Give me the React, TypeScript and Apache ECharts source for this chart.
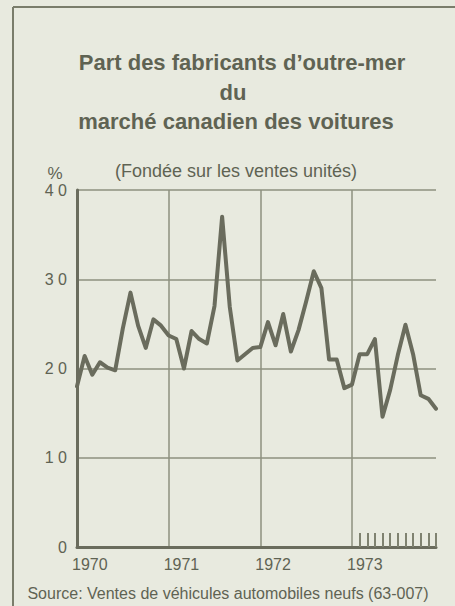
import React, { useEffect, useRef } from "react";
import * as echarts from "echarts";

// Data (monthly share, %, Jan 1970 – Dec 1973)
const years = ["1970", "1971", "1972", "1973"];
const monthNames = ["01", "02", "03", "04", "05", "06", "07", "08", "09", "10", "11", "12"];
const shareValues = [
  18.0, 21.4, 19.3, 20.7, 20.1, 19.8, 24.5, 28.5, 24.8, 22.3, 25.5, 24.8,
  23.7, 23.3, 20.0, 24.2, 23.3, 22.8, 27.0, 37.0, 26.9, 20.9, 21.6, 22.3,
  22.4, 25.2, 22.6, 26.1, 21.9, 24.3, 27.5, 30.9, 29.0, 21.0, 21.0, 17.8,
  18.2, 21.6, 21.6, 23.3, 14.6, 17.6, 21.5, 24.9, 21.6, 17.0, 16.6, 15.5,
];
const yTicks = { min: 0, max: 40, interval: 10 };

const titleLines = ["Part des fabricants d\u2019outre-mer", "du", "marché canadien des voitures"];
const subtitle = "(Fondée sur les ventes unités)";
const unitLabel = "%";
const sourceText = "Source: Ventes de véhicules automobiles neufs (63-007)";

const categories: string[] = [];
years.forEach((y) => monthNames.forEach((m) => categories.push(`${y}-${m}`)));

const BG = "#e8eadf";
const INK = "#5f6353";
const LINE = "#6a6c5d";
const GRID = "#8e917f";

export default function App() {
  const ref = useRef<HTMLDivElement>(null);
  useEffect(() => {
    if (!ref.current) return;
    const chart = echarts.init(ref.current, null, { renderer: "svg" });
    chart.setOption({
      animation: false,
      backgroundColor: BG,
      grid: { left: 77, right: 19, top: 190, bottom: 59, containLabel: false },
      xAxis: {
        type: "category",
        data: categories,
        boundaryGap: false,
        axisLine: { show: true, lineStyle: { color: LINE, width: 3 } },
        axisTick: {
          show: true,
          inside: true,
          length: 14,
          interval: (i: number) => i >= 37,
          lineStyle: { color: "#7f8270", width: 2 },
        },
        axisLabel: {
          show: true,
          interval: (i: number) => i % 12 === 0,
          formatter: (v: string) => v.slice(0, 4),
          align: "left",
          padding: [0, 0, 0, -5],
          margin: 9,
          color: INK,
          fontSize: 16,
          fontFamily: "Liberation Sans",
        },
        splitLine: {
          show: true,
          interval: (i: number) => i % 12 === 0 && i > 0,
          lineStyle: { color: GRID, width: 1.5 },
        },
      },
      yAxis: {
        type: "value",
        min: yTicks.min,
        max: yTicks.max,
        interval: yTicks.interval,
        axisLine: { show: true, lineStyle: { color: LINE, width: 3 } },
        axisTick: { show: false },
        axisLabel: {
          formatter: (v: number) => String(v).split("").join(" "),
          margin: 10,
          color: INK,
          fontSize: 16,
          fontFamily: "Liberation Sans",
        },
        splitLine: { show: true, lineStyle: { color: GRID, width: 1.5 } },
      },
      series: [
        {
          type: "line",
          data: shareValues,
          symbol: "none",
          smooth: false,
          z: 5,
          lineStyle: { color: LINE, width: 4, join: "round", cap: "round" },
        },
      ],
      graphic: [
        { type: "line", shape: { x1: 13, y1: 7, x2: 13, y2: 606 }, style: { stroke: "#7a7d6b", lineWidth: 2 } },
        { type: "line", shape: { x1: 13, y1: 7, x2: 455, y2: 7 }, style: { stroke: "#7a7d6b", lineWidth: 2 } },
        {
          type: "text", x: 242, y: 62,
          style: { text: titleLines[0], textAlign: "center", textVerticalAlign: "middle", fill: INK, font: "bold 22px 'Liberation Sans'" },
        },
        {
          type: "text", x: 233, y: 92,
          style: { text: titleLines[1], textAlign: "center", textVerticalAlign: "middle", fill: INK, font: "bold 22px 'Liberation Sans'" },
        },
        {
          type: "text", x: 236, y: 121,
          style: { text: titleLines[2], textAlign: "center", textVerticalAlign: "middle", fill: INK, font: "bold 22px 'Liberation Sans'" },
        },
        {
          type: "text", x: 236, y: 171,
          style: { text: subtitle, textAlign: "center", textVerticalAlign: "middle", fill: INK, font: "18px 'Liberation Sans'" },
        },
        {
          type: "text", x: 55, y: 173,
          style: { text: unitLabel, textAlign: "center", textVerticalAlign: "middle", fill: INK, font: "17px 'Liberation Sans'" },
        },
        {
          type: "text", x: 228, y: 593,
          style: { text: sourceText, textAlign: "center", textVerticalAlign: "middle", fill: INK, font: "16px 'Liberation Sans'" },
        },
      ],
    });
    return () => chart.dispose();
  }, []);
  return (
    <div
      ref={ref}
      style={{ position: "fixed", left: 0, top: 0, width: 455, height: 606, background: BG }}
    />
  );
}
